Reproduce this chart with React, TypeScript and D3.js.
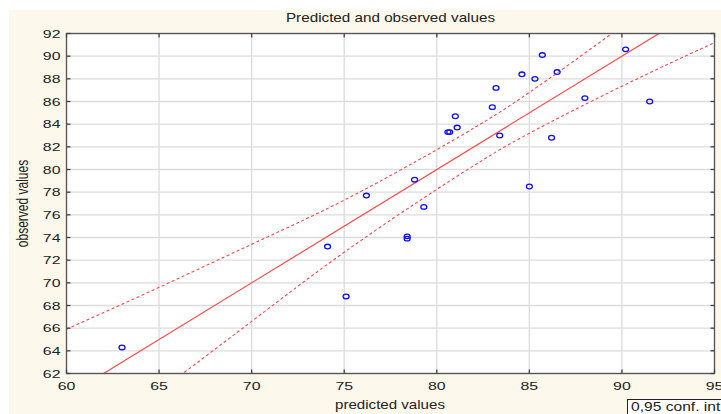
import React from 'react';
import * as d3 from 'd3';

// Observed vs predicted points
const predicted = [63.0, 74.1, 75.1, 76.2, 78.4, 78.4, 78.8, 79.3, 80.6, 80.7, 81.0, 81.1, 83.0, 83.2, 83.4, 84.6, 85.0, 85.3, 85.7, 86.2, 86.5, 88.0, 90.2, 91.5];
const observed = [64.3, 73.2, 68.8, 77.7, 74.1, 73.9, 79.1, 76.7, 83.3, 83.3, 84.7, 83.7, 85.5, 87.2, 83.0, 88.4, 78.5, 88.0, 90.1, 82.8, 88.6, 86.3, 90.6, 86.0];

// Fitted line (observed = intercept + slope * predicted)
const fitIntercept = 0;
const fitSlope = 1;

// 0.95 confidence band, read at a few predicted values
const bandX = [60, 65, 70, 75, 80, 82.5, 85, 90, 95];
const bandUpper = [65.9, 69.6, 73.4, 77.3, 81.75, 84.15, 86.8, 92.65, 98.8];
const bandLower = [54.1, 60.4, 66.6, 72.7, 78.25, 80.85, 83.2, 87.35, 91.2];

const xTicks = [60, 65, 70, 75, 80, 85, 90, 95];
const yTicks = [62, 64, 66, 68, 70, 72, 74, 76, 78, 80, 82, 84, 86, 88, 90, 92];

const title = 'Predicted and observed values';
const xLabel = 'predicted values';
const yLabel = 'observed values';
const legendLabel = '0,95 conf. int.';

const W = 721;
const H = 414;
const m = { left: 66.5, right: 714.5, top: 33.5, bottom: 373.5 };
const FONT = '"Liberation Sans", Arial, sans-serif';
const RED = '#ff4a4a';

// horizontally stretched text, like the original bitmap
const T = ({ x, y, anchor = 'start', size = 12, sx = 1.3, children }: any) => (
  <g transform={`translate(${x},${y}) scale(${sx},1)`}>
    <text x={0} y={0} textAnchor={anchor} fontSize={size} fontFamily={FONT} fill="#222">{children}</text>
  </g>
);

export default function App() {
  const x = d3.scaleLinear().domain([60, 95]).range([m.left, m.right]);
  const y = d3.scaleLinear().domain([62, 92]).range([m.bottom, m.top]);

  const fitX = x.domain();
  const fitLine = d3.line<number>().x(v => x(v)).y(v => y(fitIntercept + fitSlope * v))(fitX);

  const bandLine = (vals: number[]) =>
    d3.line<number>().x((_, i) => x(bandX[i])).y(v => y(v)).curve(d3.curveNatural)(vals);

  const tick = 4;

  return (
    <div style={{ position: 'absolute', left: 0, top: 0 }}>
      <svg width={W} height={H} style={{ display: 'block' }}>
        <defs>
          <clipPath id="plotClip">
            <rect x={m.left} y={m.top} width={m.right - m.left} height={m.bottom - m.top} />
          </clipPath>
        </defs>
        <rect x={0} y={0} width={W} height={H} fill="#ffffff" />
        <rect x={9} y={10} width={W - 9} height={H - 10} fill="#fdf8ec" />

        <T x={(m.left + m.right) / 2} y={22} anchor="middle" sx={1.27}>{title}</T>

        {/* plot background */}
        <rect x={m.left} y={m.top} width={m.right - m.left} height={m.bottom - m.top} fill="#ffffff" />

        {/* grid */}
        {xTicks.map(t => (
          <line key={'gx' + t} x1={x(t)} x2={x(t)} y1={m.top} y2={m.bottom} stroke="#dcdcdc" strokeWidth={1.3} />
        ))}
        {yTicks.map(t => (
          <line key={'gy' + t} x1={m.left} x2={m.right} y1={y(t)} y2={y(t)} stroke="#dcdcdc" strokeWidth={1.3} />
        ))}

        <g clipPath="url(#plotClip)">
          <path d={bandLine(bandUpper) || ''} fill="none" stroke={RED} strokeWidth={1.1} strokeDasharray="3,2.5" />
          <path d={bandLine(bandLower) || ''} fill="none" stroke={RED} strokeWidth={1.1} strokeDasharray="3,2.5" />
          <path d={fitLine || ''} fill="none" stroke={RED} strokeWidth={1.2} />
          {predicted.map((p, i) => (
            <ellipse key={i} cx={x(p)} cy={y(observed[i])} rx={3} ry={2.3} fill="none" stroke="#1010ff" strokeWidth={1.3} />
          ))}
        </g>

        {/* frame */}
        <rect x={m.left} y={m.top} width={m.right - m.left} height={m.bottom - m.top} fill="none" stroke="#555" strokeWidth={1.3} />

        {/* inward ticks on all four sides */}
        {xTicks.map(t => (
          <g key={'tx' + t}>
            <line x1={x(t)} x2={x(t)} y1={m.top} y2={m.top + tick} stroke="#444" strokeWidth={1.3} />
            <line x1={x(t)} x2={x(t)} y1={m.bottom} y2={m.bottom - tick} stroke="#444" strokeWidth={1.3} />
          </g>
        ))}
        {yTicks.map(t => (
          <g key={'ty' + t}>
            <line x1={m.left} x2={m.left + tick} y1={y(t)} y2={y(t)} stroke="#444" strokeWidth={1.3} />
            <line x1={m.right} x2={m.right - tick} y1={y(t)} y2={y(t)} stroke="#444" strokeWidth={1.3} />
          </g>
        ))}

        {/* tick labels */}
        {xTicks.map(t => (
          <T key={'lx' + t} x={x(t)} y={m.bottom + 16} anchor="middle" size={11.5} sx={1.38}>{t}</T>
        ))}
        {yTicks.map(t => (
          <T key={'ly' + t} x={m.left - 6} y={y(t) + 4} anchor="end" size={11.5} sx={1.38}>{t}</T>
        ))}

        {/* axis titles */}
        <T x={390} y={409} anchor="middle" sx={1.26}>{xLabel}</T>
        <g transform={`translate(28,${(m.top + m.bottom) / 2}) rotate(-90) scale(1,1.3)`}>
          <text x={0} y={0} textAnchor="middle" fontSize={12} fontFamily={FONT} fill="#222">{yLabel}</text>
        </g>

        {/* legend, cut at the right edge */}
        <rect x={627.5} y={399.5} width={110} height={20} fill="#ffffff" stroke="#222" strokeWidth={1} />
        <T x={631} y={411} sx={1.3}>{legendLabel}</T>
      </svg>
    </div>
  );
}
